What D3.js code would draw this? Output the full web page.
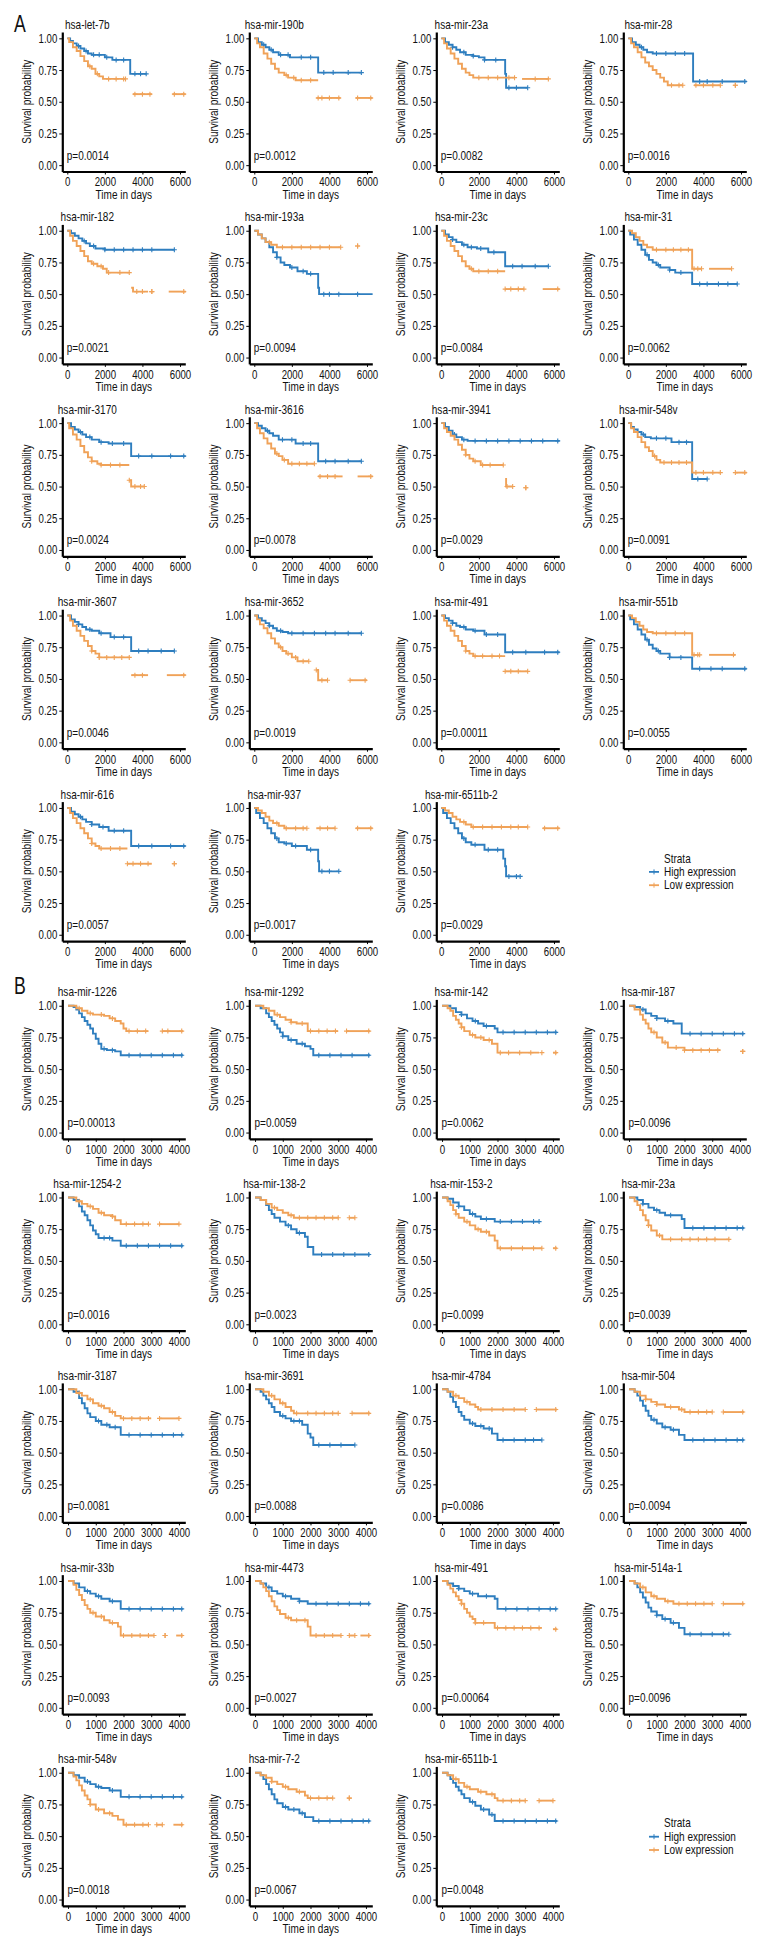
<!DOCTYPE html>
<html>
<head>
<meta charset="utf-8">
<script src="https://cdn.jsdelivr.net/npm/d3@7"></script>
<style>
  body { margin: 0; background: #fff; }
  svg text { font-family: "Liberation Sans", Arial, sans-serif; fill: #111; }
</style>
</head>
<body>
<svg id="fig" width="768" height="1956"></svg>
<script>
// ---- data: panel A (0 - 6000 days) ----
var genesA = ['hsa-let-7b','hsa-mir-190b','hsa-mir-23a','hsa-mir-28','hsa-mir-182','hsa-mir-193a','hsa-mir-23c','hsa-mir-31',
  'hsa-mir-3170','hsa-mir-3616','hsa-mir-3941','hsa-mir-548v','hsa-mir-3607','hsa-mir-3652','hsa-mir-491','hsa-mir-551b',
  'hsa-mir-616','hsa-mir-937','hsa-mir-6511b-2'];
var pvalA = ['0.0014','0.0012','0.0082','0.0016','0.0021','0.0094','0.0084','0.0062','0.0024','0.0078','0.0029','0.0091',
  '0.0046','0.0019','0.00011','0.0055','0.0057','0.0017','0.0029'];
var ticksA = [0, 2000, 4000, 6000];

// each curve: list of segments, each segment: [time, survival] steps
var highA = [
  [[[0,1],[150,.98],[300,.96],[500,.94],[700,.92],[900,.90],[1100,.88],[1300,.87],[2000,.85],[2400,.83],[3350,.72],[4200,.72]]],
  [[[0,1],[200,.97],[400,.95],[600,.93],[800,.91],[1000,.89],[1300,.87],[1900,.85],[3400,.73],[5700,.73]]],
  [[[0,1],[200,.97],[400,.95],[600,.93],[800,.91],[1000,.89],[1300,.87],[1700,.86],[2000,.85],[2300,.83],[3400,.72],[3450,.61],[4600,.61]]],
  [[[0,1],[200,.97],[400,.95],[600,.93],[800,.91],[1000,.89],[1300,.88],[3450,.66],[6300,.66]]],
  [[[0,1],[200,.98],[400,.96],[600,.94],[800,.92],[1000,.90],[1200,.88],[1500,.86],[2000,.85],[5700,.85]]],
  [[[0,1],[200,.97],[400,.94],[600,.91],[800,.87],[1000,.83],[1200,.79],[1400,.75],[1600,.73],[1900,.71],[2300,.68],[2800,.66],[3400,.55],[3450,.50],[6300,.50]]],
  [[[0,1],[200,.97],[400,.95],[600,.93],[800,.91],[1100,.89],[1400,.87],[1900,.86],[2500,.83],[3400,.72],[5700,.72]]],
  [[[0,1],[100,.97],[300,.93],[500,.89],[700,.85],[900,.81],[1100,.77],[1300,.75],[1500,.73],[1700,.71],[2200,.69],[2500,.67],[3400,.58],[5800,.58]]],
  [[[0,1],[200,.97],[400,.95],[600,.93],[800,.91],[1000,.89],[1300,.87],[1700,.85],[2200,.84],[3400,.74],[6300,.74]]],
  [[[0,1],[200,.98],[400,.96],[600,.94],[800,.92],[1000,.90],[1300,.87],[2200,.84],[3400,.70],[5700,.70]]],
  [[[0,1],[200,.97],[400,.94],[600,.91],[800,.89],[1100,.87],[1400,.86],[6300,.86]]],
  [[[0,1],[150,.97],[300,.95],[500,.93],[700,.91],[900,.89],[1200,.88],[2300,.85],[3400,.56],[4200,.56]]],
  [[[0,1],[200,.97],[400,.95],[600,.93],[800,.91],[1000,.89],[1300,.88],[1700,.86],[2300,.83],[3400,.72],[5700,.72]]],
  [[[0,1],[200,.98],[400,.96],[600,.94],[800,.92],[1000,.90],[1200,.88],[1500,.87],[1800,.86],[5700,.86]]],
  [[[0,1],[200,.98],[400,.96],[600,.94],[800,.92],[1000,.91],[1300,.89],[1700,.88],[2300,.85],[3400,.71],[6300,.71]]],
  [[[0,1],[100,.97],[300,.93],[500,.89],[700,.85],[900,.81],[1100,.77],[1300,.74],[1500,.72],[1700,.70],[2200,.67],[3400,.58],[6300,.58]]],
  [[[0,1],[200,.97],[400,.95],[600,.93],[800,.91],[1000,.89],[1300,.87],[1700,.85],[2200,.82],[3400,.70],[6300,.70]]],
  [[[0,1],[100,.96],[300,.92],[500,.88],[700,.84],[900,.80],[1100,.76],[1300,.73],[1600,.72],[2000,.70],[2800,.67],[3400,.58],[3450,.50],[4500,.50]]],
  [[[0,1],[100,.96],[300,.92],[500,.88],[700,.84],[900,.80],[1100,.76],[1300,.73],[1600,.71],[2300,.67],[3300,.60],[3400,.54],[3450,.46],[4200,.46]]]
];
var lowA = [
  [[[0,1],[100,.97],[300,.93],[500,.90],[700,.86],[900,.82],[1100,.78],[1300,.76],[1500,.72],[1700,.70],[1900,.68],[3100,.68]], [[3500,.56],[4500,.56]], [[5600,.56],[6300,.56]]],
  [[[0,1],[150,.96],[300,.93],[500,.88],[700,.84],[900,.80],[1100,.76],[1300,.73],[1600,.71],[1800,.69],[2200,.67],[3400,.67]], [[3300,.53],[4600,.53]], [[5400,.53],[6300,.53]]],
  [[[0,1],[150,.96],[300,.92],[500,.88],[700,.84],[900,.80],[1100,.76],[1300,.73],[1500,.71],[1700,.69],[3900,.69]], [[4300,.68],[5700,.68]]],
  [[[0,1],[150,.96],[300,.93],[500,.89],[700,.85],[900,.81],[1100,.78],[1300,.75],[1500,.72],[1700,.69],[1900,.66],[2100,.63],[2900,.63]], [[3500,.63],[4900,.63]], [[5700,.63]]],
  [[[0,1],[150,.96],[300,.92],[500,.88],[700,.84],[900,.80],[1100,.76],[1300,.74],[1600,.72],[1900,.70],[2100,.67],[3300,.67]], [[3400,.55],[3500,.52],[4300,.52]], [[4500,.52]], [[5400,.52],[6300,.52]]],
  [[[0,1],[200,.97],[400,.94],[600,.91],[900,.89],[1200,.87],[4600,.87]], [[5500,.88]]],
  [[[0,1],[150,.96],[300,.92],[500,.88],[700,.84],[900,.80],[1100,.76],[1300,.72],[1500,.70],[1700,.68],[3400,.68]], [[3400,.54],[4400,.54]], [[5400,.54],[6300,.54]]],
  [[[0,1],[200,.98],[400,.95],[600,.92],[800,.89],[1000,.87],[1300,.85],[3400,.70],[3900,.70]], [[4300,.70],[5500,.70]]],
  [[[0,1],[100,.96],[300,.91],[500,.87],[700,.82],[900,.77],[1100,.73],[1300,.70],[1600,.68],[1800,.67],[3300,.67]], [[3300,.55],[3400,.50],[4100,.50]]],
  [[[0,1],[150,.96],[300,.92],[500,.88],[700,.84],[900,.80],[1100,.76],[1300,.74],[1500,.71],[1800,.68],[3200,.68]], [[3400,.58],[4700,.58]], [[5500,.58],[6300,.58]]],
  [[[0,1],[150,.96],[300,.93],[500,.90],[700,.87],[900,.83],[1100,.79],[1300,.75],[1500,.72],[1700,.70],[2100,.67],[3300,.67]], [[3400,.56],[3450,.50],[3800,.50]], [[4500,.49]]],
  [[[0,1],[150,.96],[300,.93],[500,.89],[700,.85],[900,.81],[1100,.78],[1300,.74],[1500,.71],[1700,.69],[3400,.61],[4900,.61]], [[5700,.61],[6300,.61]]],
  [[[0,1],[150,.96],[300,.92],[500,.88],[700,.84],[900,.80],[1100,.76],[1300,.72],[1500,.70],[1700,.67],[3300,.67]], [[3400,.53],[4300,.53]], [[5300,.53],[6300,.53]]],
  [[[0,1],[150,.97],[300,.93],[500,.90],[700,.86],[900,.82],[1100,.78],[1300,.75],[1500,.72],[1700,.70],[2000,.67],[2300,.64],[2900,.64]], [[3300,.57],[3400,.49],[3900,.49]], [[5100,.49],[6000,.49]]],
  [[[0,1],[150,.96],[300,.92],[500,.88],[700,.84],[900,.80],[1100,.76],[1300,.72],[1500,.70],[1700,.68],[3400,.68]], [[3400,.56],[4600,.56]]],
  [[[0,1],[200,.98],[400,.95],[600,.92],[800,.89],[1000,.87],[1300,.86],[3400,.69],[3800,.69]], [[4300,.69],[5700,.69]]],
  [[[0,1],[150,.96],[300,.92],[500,.88],[700,.84],[900,.80],[1100,.76],[1300,.72],[1500,.70],[1700,.68],[3200,.68]], [[3200,.56],[4500,.56]], [[5700,.56]]],
  [[[0,1],[200,.98],[400,.96],[600,.93],[800,.90],[1000,.88],[1300,.86],[1600,.84],[2800,.84]], [[3300,.84],[4300,.84]], [[5400,.84],[6300,.84]]],
  [[[0,1],[200,.98],[400,.96],[600,.93],[800,.91],[1000,.89],[1300,.87],[1600,.85],[4600,.85]], [[5400,.84],[6300,.84]]]
];
var censHighA = [
  [600,1000,1400,1700,2100,2600,3000,3600,3900,4200],[500,900,1400,1800,2500,3000,3700,4200,5000,5700],
  [600,1200,1700,2300,2900,3600,4000,4600],[700,1500,2000,2500,3000,3800,4200,5000,6200],
  [900,1400,2000,2500,3000,3500,4000,4500,5700],[1200,2000,2600,3000,3700,4000,4500,5500],
  [600,1200,1600,2100,2800,3800,4300,5000,5700],[1000,1600,2200,2800,3800,4200,4800,5300,5800],
  [700,1200,1800,2400,3000,3800,4500,5500,6200],[700,1500,2000,2600,3000,3800,4300,5000,5700],
  [700,1200,1800,2400,3000,3600,4200,4800,5400,6200],[800,1500,2000,2700,3100,3700,4200],
  [600,1200,1800,2500,3000,3800,4300,5000,5700],[800,1400,2000,2600,3200,3800,4300,5000,5700],
  [600,1200,1800,2400,3000,3800,4500,5500,6200],[1000,1600,2200,2800,3800,4400,5000,6200],
  [700,1300,1900,2500,3000,3800,4500,5500,6200],[1200,1700,2200,3000,3600,4000,4500],
  [1200,1800,2500,3000,3600,4000,4200]
];
var censLowA = [
  [1200,1600,2200,2600,3000,3100,3600,4000,4400,5700,6200],[1700,2100,2500,3000,3400,3600,4000,4500,5500,6200],
  [2000,2500,3000,3600,3900,5000,5700],[2300,2700,2900,3600,4000,4500,4900,5700],
  [1400,1800,2200,2800,3300,3700,4000,4500,6200],[800,1500,2000,2500,3000,3500,4000,4600,5500],
  [1600,2000,2500,3000,3400,3700,4100,4400,6200],[1500,2000,2400,2800,3200,3500,3700,3900,5500],
  [1300,1800,2300,2800,3300,3600,3900,4100],[1200,1600,2000,2400,2800,3200,3500,3900,4300,6200],
  [1300,1800,2200,2600,3300,3500,3800,4500],[1400,1900,2300,2700,3100,3600,4000,4500,4900,5700,6200],
  [1300,1700,2100,2500,2900,3300,3600,4000,6200],[1400,1800,2200,2600,2900,3300,3600,3900,5100,5900],
  [1300,1800,2200,2700,3100,3400,3700,4100,4600],[1500,2000,2500,3000,3500,3700,3800,5600],
  [1300,1800,2300,2800,3200,3500,3900,4300,5700],[1200,1700,2200,2600,2800,3500,3900,4300,5500,6200],
  [1200,1700,2200,2700,3200,3700,4100,4600,5500,6200]
];

// ---- data: panel B (0 - 4000 days) ----
var genesB = ['hsa-mir-1226','hsa-mir-1292','hsa-mir-142','hsa-mir-187','hsa-mir-1254-2','hsa-mir-138-2','hsa-mir-153-2','hsa-mir-23a',
  'hsa-mir-3187','hsa-mir-3691','hsa-mir-4784','hsa-mir-504','hsa-mir-33b','hsa-mir-4473','hsa-mir-491','hsa-mir-514a-1',
  'hsa-mir-548v','hsa-mir-7-2','hsa-mir-6511b-1'];
var pvalB = ['0.00013','0.0059','0.0062','0.0096','0.0016','0.0023','0.0099','0.0039','0.0081','0.0088','0.0086','0.0094',
  '0.0093','0.0027','0.00064','0.0096','0.0018','0.0067','0.0048'];
var ticksB = [0, 1000, 2000, 3000, 4000];

var highB = [
  [[[0,1],[200,.99],[300,.97],[400,.94],[500,.91],[600,.88],[700,.85],[800,.82],[900,.78],[1000,.74],[1100,.70],[1200,.66],[1400,.65],[1700,.64],[1900,.61],[4150,.61]]],
  [[[0,1],[200,.98],[400,.94],[500,.91],[600,.88],[700,.85],[800,.82],[900,.79],[1000,.76],[1200,.73],[1500,.70],[1800,.68],[2000,.66],[2100,.61],[4150,.61]]],
  [[[0,1],[300,.98],[500,.95],[700,.93],[900,.90],[1100,.88],[1300,.86],[1500,.84],[1900,.82],[2000,.79],[4150,.79]]],
  [[[0,1],[200,.99],[400,.97],[600,.94],[800,.92],[1000,.90],[1300,.88],[1600,.86],[1900,.78],[4150,.78]]],
  [[[0,1],[200,.98],[400,.93],[500,.89],[600,.86],[700,.82],[800,.78],[900,.74],[1000,.71],[1100,.68],[1600,.66],[1900,.62],[4150,.62]]],
  [[[0,1],[200,.98],[400,.94],[500,.90],[600,.87],[700,.84],[900,.81],[1100,.78],[1300,.75],[1500,.72],[1800,.69],[1900,.61],[2100,.55],[4150,.55]]],
  [[[0,1],[200,.99],[400,.96],[600,.93],[800,.90],[1000,.87],[1200,.85],[1400,.83],[1900,.81],[3500,.81]]],
  [[[0,1],[300,.98],[500,.95],[700,.92],[900,.90],[1100,.88],[1300,.86],[1900,.83],[2000,.76],[4150,.76]]],
  [[[0,1],[200,.98],[400,.93],[500,.89],[600,.85],[700,.81],[800,.78],[1000,.75],[1200,.72],[1500,.70],[1900,.64],[4150,.64]]],
  [[[0,1],[200,.98],[300,.95],[400,.92],[500,.89],[600,.86],[700,.82],[900,.79],[1100,.77],[1300,.75],[1700,.72],[1900,.65],[2000,.62],[2100,.56],[3600,.56]]],
  [[[0,1],[200,.98],[300,.94],[400,.90],[500,.86],[600,.82],[700,.79],[800,.76],[1000,.73],[1200,.71],[1500,.69],[1800,.65],[2000,.60],[3600,.60]]],
  [[[0,1],[200,.98],[300,.95],[400,.91],[500,.87],[600,.83],[700,.79],[800,.76],[1000,.73],[1200,.70],[1500,.68],[1800,.64],[2000,.60],[4150,.60]]],
  [[[0,1],[200,.98],[400,.95],[600,.92],[800,.90],[1000,.88],[1200,.86],[1500,.84],[1900,.78],[4150,.78]]],
  [[[0,1],[200,.98],[400,.95],[600,.92],[800,.90],[1000,.88],[1300,.86],[1600,.84],[1900,.82],[4150,.82]]],
  [[[0,1],[200,.98],[400,.96],[600,.94],[800,.92],[1000,.90],[1300,.88],[1900,.86],[2000,.78],[4150,.78]]],
  [[[0,1],[200,.98],[300,.95],[400,.91],[500,.87],[600,.83],[700,.79],[800,.76],[1000,.73],[1200,.70],[1500,.67],[1800,.63],[2000,.58],[3600,.58]]],
  [[[0,1],[200,.98],[400,.96],[600,.93],[800,.91],[1000,.89],[1200,.88],[1500,.86],[1900,.81],[4150,.81]]],
  [[[0,1],[200,.98],[300,.95],[400,.91],[500,.87],[600,.83],[700,.79],[800,.76],[1000,.73],[1200,.71],[1600,.68],[1800,.65],[2100,.62],[4150,.62]]],
  [[[0,1],[200,.98],[300,.95],[400,.92],[500,.89],[600,.86],[700,.83],[800,.80],[1000,.77],[1200,.74],[1400,.71],[1700,.67],[1900,.62],[4150,.62]]]
];
var lowB = [
  [[[0,1],[300,.98],[500,.96],[700,.94],[900,.93],[1300,.92],[1500,.90],[1700,.88],[1900,.86],[2000,.82],[2100,.80],[2900,.80]], [[3400,.80],[4150,.80]]],
  [[[0,1],[300,.98],[500,.96],[700,.93],[900,.91],[1100,.89],[1300,.87],[1500,.86],[1900,.80],[3000,.80]], [[3300,.80],[4150,.80]]],
  [[[0,1],[200,.98],[300,.96],[400,.92],[500,.89],[600,.86],[700,.83],[800,.80],[1000,.77],[1200,.75],[1500,.73],[1800,.70],[2000,.63],[3500,.63]], [[4000,.63],[4150,.63]]],
  [[[0,1],[200,.97],[400,.93],[500,.89],[600,.86],[700,.82],[800,.79],[1000,.75],[1200,.71],[1400,.67],[2000,.65],[3300,.65]], [[4100,.64]]],
  [[[0,1],[300,.97],[500,.95],[700,.93],[900,.91],[1100,.88],[1300,.86],[1600,.85],[1700,.82],[1900,.79],[2900,.79]], [[3300,.79],[4000,.79]]],
  [[[0,1],[200,.98],[400,.95],[600,.92],[800,.90],[1000,.88],[1200,.86],[1400,.84],[3000,.84]], [[3400,.84],[3600,.84]]],
  [[[0,1],[200,.97],[300,.94],[400,.90],[500,.87],[600,.84],[800,.81],[1000,.78],[1200,.75],[1400,.73],[1700,.70],[1900,.66],[2000,.60],[3600,.60]], [[4000,.60],[4150,.60]]],
  [[[0,1],[200,.97],[300,.94],[400,.90],[500,.86],[600,.82],[700,.78],[800,.74],[1000,.70],[1200,.67],[3600,.67]]],
  [[[0,1],[300,.97],[500,.95],[700,.92],[900,.89],[1100,.87],[1300,.85],[1500,.82],[1700,.79],[1900,.77],[3000,.77]], [[3300,.77],[4000,.77]]],
  [[[0,1],[300,.98],[500,.95],[700,.92],[900,.89],[1100,.86],[1300,.83],[1400,.81],[3000,.81]], [[3500,.81],[4150,.81]]],
  [[[0,1],[200,.98],[400,.95],[600,.93],[800,.90],[1000,.88],[1200,.86],[1300,.84],[3000,.84]], [[3400,.84],[4150,.84]]],
  [[[0,1],[200,.98],[400,.95],[600,.92],[800,.90],[1000,.88],[1300,.86],[1800,.84],[2000,.82],[3000,.82]], [[3400,.82],[4150,.82]]],
  [[[0,1],[200,.97],[300,.93],[400,.89],[500,.85],[600,.81],[700,.78],[800,.75],[1000,.72],[1300,.69],[1500,.67],[1800,.64],[1900,.57],[3100,.57]], [[3500,.57]], [[3900,.57],[4150,.57]]],
  [[[0,1],[200,.98],[300,.95],[400,.92],[500,.88],[600,.84],[700,.80],[800,.77],[900,.74],[1100,.71],[1300,.69],[1900,.64],[2000,.57],[3100,.57]], [[3400,.57],[3600,.57]], [[3800,.57],[4150,.57]]],
  [[[0,1],[200,.97],[300,.94],[400,.91],[500,.88],[600,.85],[700,.82],[800,.78],[900,.75],[1000,.72],[1100,.70],[1200,.67],[1900,.63],[3600,.63]], [[4000,.62],[4150,.62]]],
  [[[0,1],[200,.98],[400,.95],[600,.91],[800,.88],[1000,.86],[1300,.84],[1600,.82],[3000,.82]], [[3400,.82],[4150,.82]]],
  [[[0,1],[200,.97],[300,.94],[400,.90],[500,.86],[600,.82],[700,.79],[800,.75],[1000,.71],[1300,.68],[1600,.66],[1800,.63],[2000,.59],[2900,.59]], [[3200,.59],[3400,.59]], [[3800,.59],[4150,.59]]],
  [[[0,1],[200,.98],[400,.96],[600,.93],[800,.91],[1000,.89],[1200,.87],[1500,.85],[1800,.82],[1900,.80],[2800,.80]], [[3400,.80]]],
  [[[0,1],[200,.98],[400,.95],[600,.92],[800,.89],[1000,.87],[1300,.85],[1600,.83],[1900,.80],[2000,.78],[3000,.78]], [[3500,.78],[4000,.78]]]
];
var censHighB = [
  [1300,1600,2200,2600,3000,3400,3800,4100],[1000,1300,1700,2300,2700,3100,3500,4100],
  [700,1200,1600,2200,2600,3000,3400,3800,4100],[500,1000,1400,2200,2600,3000,3400,3800,4100],
  [1300,1500,2100,2500,2900,3300,3700,4100],[1200,1600,2400,2800,3200,3600,4100],
  [600,1100,1600,2100,2500,2900,3300,3500],[500,1000,1500,2300,2700,3100,3500,3900,4100],
  [1100,1400,1700,2200,2600,3000,3400,3800,4100],[1000,1400,1600,2300,2700,3100,3600],
  [1100,1400,1700,2200,2600,3000,3300,3600],[900,1300,1600,2300,2700,3100,3500,3900,4100],
  [700,1100,1600,2200,2600,3000,3400,3800,4100],[500,1100,1600,2200,2600,3000,3400,3800,4100],
  [600,1100,1600,2300,2700,3100,3500,3900,4100],[1000,1300,1600,2200,2600,3000,3400,3600],
  [700,1100,1600,2200,2600,3000,3400,3800,4100],[1100,1400,1700,2300,2700,3100,3500,3900,4100],
  [1100,1500,1800,2200,2600,3000,3400,3800,4100]
];
var censLowB = [
  [400,800,1200,1600,2200,2500,2800,3400,3600,4100],[800,1300,1700,2000,2300,2600,2900,3300,4100],
  [700,1100,1400,1700,2100,2400,2800,3200,3600,4100],[900,1300,1700,2000,2300,2600,2900,3200,4100],
  [400,800,1200,1600,2100,2400,2700,2900,3300,4000],[700,1300,1600,1900,2200,2500,2800,3000,3400,3600],
  [500,900,1300,1600,2100,2500,2900,3300,3600,4100],[700,1100,1500,1900,2200,2500,2800,3100,3600],
  [400,800,1200,1600,2000,2300,2600,2900,3300,4000],[600,1000,1500,1900,2200,2500,2800,3000,3500,4100],
  [500,900,1400,1800,2200,2600,3000,3400,4100],[600,1000,1500,1900,2200,2500,2800,3000,3400,4100],
  [900,1200,1600,2000,2300,2600,2900,3100,3500,4100],[1200,1500,1800,2200,2500,2800,3100,3400,3600,4100],
  [700,1200,1500,2000,2300,2600,2900,3200,3500,4100],[500,900,1400,1800,2100,2400,2700,3000,3400,4100],
  [800,1100,1500,2100,2400,2700,2900,3200,3400,4100],[600,1100,1600,2000,2300,2600,2800,3400],
  [500,900,1400,1800,2200,2500,2800,3000,3500,4000]
];

var yTicks = [0, 0.25, 0.5, 0.75, 1];
var strata = ['High expression', 'Low expression'];
var colors = ['#2e7ebf', '#f0a258'];

// ---- layout ----
var svg = d3.select('#fig');
var colX = [62.3, 249.3, 436.3, 623.3];
var plotW = 123, plotH = 139.5;

var y = d3.scaleLinear().domain([-0.05, 1.05]).range([plotH, 0]);
var xA = d3.scaleLinear().domain([-266, 6283]).range([0, plotW]);
var xB = d3.scaleLinear().domain([-207, 4229]).range([0, plotW]);

function survAt(curve, t) {
  var s = 1;
  curve.forEach(function(seg) {
    seg.forEach(function(p) { if (p[0] <= t) s = p[1]; });
  });
  return s;
}

function drawPanel(g, x, xticks, gene, pval, high, low, censHigh, censLow) {
  var line = d3.line()
    .x(function(d) { return x(d[0]); })
    .y(function(d) { return y(d[1]); })
    .curve(d3.curveStepAfter);

  [high, low].forEach(function(curve, k) {
    var cg = g.append('g');
    cg.selectAll('path.seg').data(curve).enter().append('path')
      .attr('class', 'seg')
      .attr('d', line)
      .attr('fill', 'none')
      .attr('stroke', colors[k])
      .attr('stroke-width', 1.9);

    var cens = k === 0 ? censHigh : censLow;
    var pts = cens.map(function(t) { return [t, survAt(curve, t)]; });
    curve.forEach(function(seg) {
      if (seg.length === 1) pts.push(seg[0]);
    });
    cg.selectAll('path.cens').data(pts).enter().append('path')
      .attr('class', 'cens')
      .attr('d', 'M-2.5,0H2.5M0,-2.5V2.5')
      .attr('stroke', colors[k])
      .attr('stroke-width', 1.1)
      .attr('transform', function(d) { return 'translate(' + x(d[0]) + ',' + y(d[1]) + ')'; });
  });

  var ya = g.append('g')
    .call(d3.axisLeft(y).tickValues(yTicks).tickFormat(d3.format('.2f')).tickSize(3).tickSizeOuter(0).tickPadding(2));
  var xa = g.append('g')
    .attr('transform', 'translate(0,' + plotH + ')')
    .call(d3.axisBottom(x).tickValues(xticks).tickFormat(d3.format('d')).tickSize(3).tickSizeOuter(0).tickPadding(3));
  [ya, xa].forEach(function(a) {
    a.select('.domain').attr('stroke', '#000').attr('stroke-width', 2.2);
    a.selectAll('.tick line').attr('stroke', '#000');
    a.selectAll('.tick text').attr('font-size', 12.5).attr('fill', '#111')
      .style('font-family', '"Liberation Sans", Arial, sans-serif');
  });

  g.append('text')
    .attr('x', 25).attr('y', -3)
    .attr('text-anchor', 'middle')
    .attr('font-size', 13)
    .text(gene);

  g.append('text')
    .attr('x', x(0) - 0.5).attr('y', y(0.08) + 4.5)
    .attr('font-size', 13)
    .text('p=' + pval);

  g.append('text')
    .attr('transform', 'translate(-31,' + (plotH / 2) + ') rotate(-90)')
    .attr('text-anchor', 'middle')
    .attr('font-size', 13)
    .text('Survival probability');

  g.append('text')
    .attr('x', plotW / 2).attr('y', plotH + 27)
    .attr('text-anchor', 'middle')
    .attr('font-size', 13)
    .text('Time in days');
}

function drawLegend(g) {
  g.append('text').attr('x', 15).attr('y', 0).attr('font-size', 13).text('Strata');
  strata.forEach(function(s, i) {
    var row = g.append('g').attr('transform', 'translate(0,' + (13.3 * (i + 1)) + ')');
    row.append('line').attr('x1', 0).attr('x2', 10).attr('y1', -4).attr('y2', -4)
      .attr('stroke', colors[i]).attr('stroke-width', 1.8);
    row.append('line').attr('x1', 5).attr('x2', 5).attr('y1', -6.5).attr('y2', -1.5)
      .attr('stroke', colors[i]).attr('stroke-width', 1);
    row.append('text').attr('x', 15).attr('y', 0).attr('font-size', 13).text(s);
  });
}

function drawSection(top, rowStep, x, xticks, genes, pvals, high, low, censHigh, censLow, letter, letterY) {
  svg.append('text').attr('x', 14).attr('y', letterY).attr('font-size', 23).text(letter);
  genes.forEach(function(gene, i) {
    var r = Math.floor(i / 4), c = i % 4;
    var g = svg.append('g').attr('transform', 'translate(' + colX[c] + ',' + (top + r * rowStep) + ')');
    drawPanel(g, x, xticks, gene, pvals[i], high[i], low[i], censHigh[i], censLow[i]);
  });
  var lg = svg.append('g').attr('transform', 'translate(649,' + (top + 4 * rowStep + 61) + ')');
  drawLegend(lg);
}

drawSection(32, 192.4, xA, ticksA, genesA, pvalA, highA, lowA, censHighA, censLowA, 'A', 32);
drawSection(999.4, 191.75, xB, ticksB, genesB, pvalB, highB, lowB, censHighB, censLowB, 'B', 994);

// condensed look: squeeze every label (no narrow face installed)
svg.selectAll('text').each(function() {
  var L = this.getComputedTextLength();
  d3.select(this).attr('textLength', (L * 0.77).toFixed(1)).attr('lengthAdjust', 'spacingAndGlyphs');
});
</script>
</body>
</html>
